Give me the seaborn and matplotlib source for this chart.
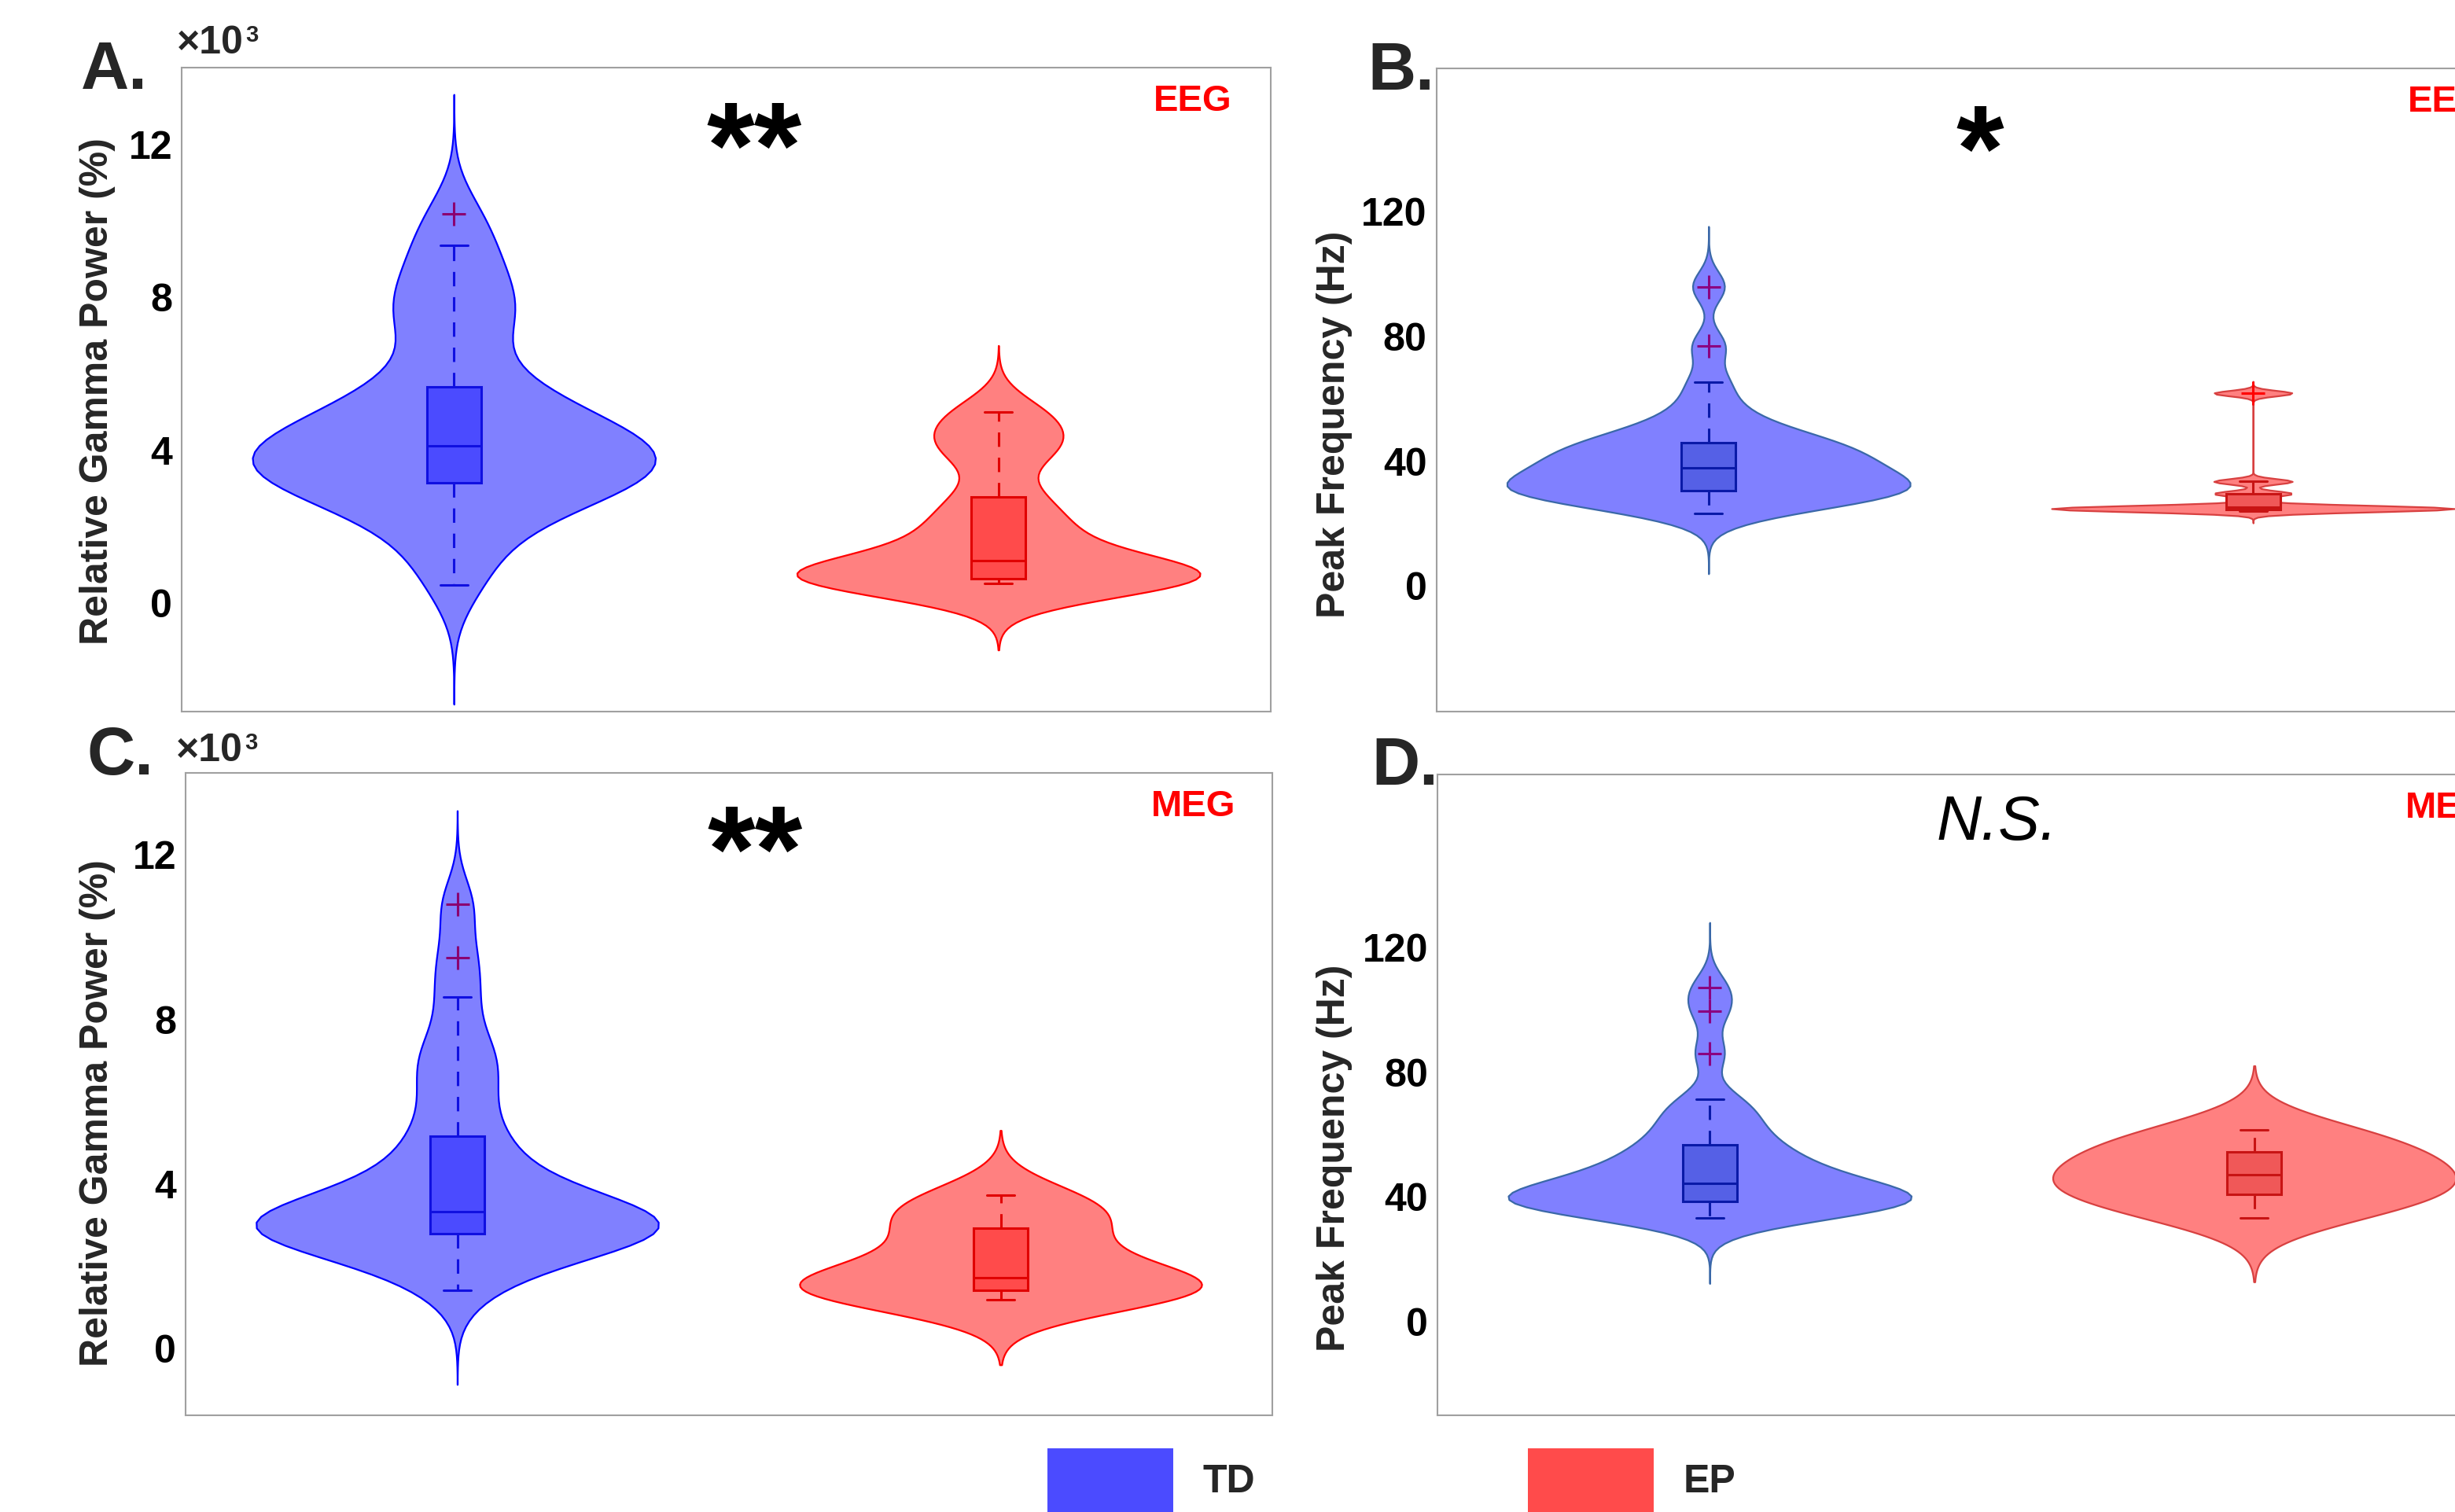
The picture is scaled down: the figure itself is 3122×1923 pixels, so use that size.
import numpy as np
import pandas as pd
import matplotlib
matplotlib.use("Agg")
import matplotlib.pyplot as plt
from matplotlib.patches import Patch
import seaborn as sns

# ---- data (box stats + violin outlines) ----
groups = ["TD", "EP"]

# A. EEG relative gamma power (x10^3 %)
eeg_power_td = [0.47, 1.3, 1.9, 2.4, 2.7, 2.9, 3.05, 3.1, 3.3, 3.45, 3.6, 3.7, 3.8, 3.95, 4.05,
                4.17, 4.3, 4.5, 4.7, 4.9, 5.2, 5.55, 5.7, 6.6, 7.4, 7.6, 8.1, 8.7, 9.36, 10.19]
eeg_power_ep = [0.51, 0.55, 0.6, 0.64, 0.75, 0.9, 1.10, 1.7, 2.1, 2.77, 3.9, 4.4, 5.0]

# B. EEG peak frequency (Hz)
eeg_freq_td = [23.2, 25.5, 27, 28, 29, 29.8, 30.2, 30.5, 31, 32, 33, 34, 35, 36, 37.5,
               38.5, 39.5, 40.5, 41.5, 43, 44.5, 45.5, 46, 48, 50, 53, 58, 65.4, 76.9, 96.0]
eeg_freq_ep = [24.0, 24.4, 24.6, 24.9, 25.2, 25.5, 29.6, 33.5, 61.8]

# C. MEG relative gamma power (x10^3 %)
meg_power_td = [1.41, 1.9, 2.2, 2.4, 2.55, 2.65, 2.72, 2.78, 2.86, 2.95, 3.0, 3.08, 3.15, 3.22, 3.3,
                3.36, 3.5, 3.7, 3.9, 4.2, 4.5, 4.9, 5.26, 5.9, 6.5, 7.0, 7.5, 8.54, 9.50, 10.79]
meg_power_ep = [1.18, 1.25, 1.35, 1.42, 1.55, 1.65, 1.73, 2.1, 2.5, 2.92, 3.2, 3.5, 3.73]

# D. MEG peak frequency (Hz)
meg_freq_td = [33.2, 34.5, 35.5, 36.3, 37, 37.6, 38.1, 38.4, 38.8, 39.5, 40.3, 41, 41.8, 42.6, 43.8,
               45.0, 46.5, 48, 49.5, 51, 53, 56.0, 56.8, 61, 64, 68, 71.2, 86.0, 99.6, 107.0]
meg_freq_ep = [33.2, 36, 38.5, 40.8, 43, 45, 47.0, 48.5, 51, 54.4, 57, 59.5, 61.6]

power_ticks = [0, 4, 8, 12]
freq_ticks = [0, 40, 80, 120]

W, H = 3122, 1923

sns.set_style("white")
plt.rcParams["font.family"] = ["Liberation Sans", "DejaVu Sans"]
plt.rcParams["font.weight"] = "bold"

# colour sets: (violin fill, violin edge, box fill, box edge, flier)
bright = {
    "TD": ("#8080ff", "#0000ff", "#4b4bff", "#1010e0", "#8b0070"),
    "EP": ("#ff8080", "#ff0000", "#ff4b4b", "#e00000", "#e00000"),
}
muted = {
    "TD": ("#8080ff", "#3a68a8", "#5560e6", "#0a1aa8", "#8b0080"),
    "EP": ("#ff8080", "#d84040", "#f05858", "#c81414", "#ff0000"),
}


def px_axes(fig, left, top, right, bottom):
    return fig.add_axes([left / W, 1 - bottom / H, (right - left) / W, (bottom - top) / H])


def draw_group(ax, values, name, cols, bw, cut):
    fill, edge, boxfill, boxedge, flier = cols
    df = pd.DataFrame({"group": name, "value": values})
    sns.violinplot(data=df, x="group", y="value", order=groups, color=fill, linecolor=edge,
                   linewidth=1.6, inner=None, cut=cut, bw_adjust=bw, density_norm="width",
                   width=0.74, saturation=1, ax=ax)
    sns.boxplot(data=df, x="group", y="value", order=groups, color=boxfill, linecolor=boxedge,
                linewidth=2.2, width=0.1, saturation=1, whis=1.5,
                whiskerprops={"linestyle": (0, (6, 4.5))},
                flierprops={"marker": "+", "markersize": 21, "markeredgewidth": 2.2,
                            "markeredgecolor": flier},
                ax=ax)


def style_axes(ax, ylim, ticks, ylabel, label_xy, tag, sig, sig_xy, sig_style):
    ax.set_xlim(-0.5, 1.5)
    ax.set_ylim(*ylim)
    ax.set_yticks(ticks)
    ax.set_xticks([])
    ax.set_xlabel("")
    ax.set_ylabel(ylabel, fontsize=36, fontweight="bold")
    ax.yaxis.set_label_coords(*label_xy)
    ax.tick_params(axis="y", direction="in", length=22, width=2.9, labelsize=36, pad=8.6,
                   colors="black")
    for sp in ax.spines.values():
        sp.set_color("#a0a0a0")
        sp.set_linewidth(1.5)
        sp.set_visible(True)
    ax.text(tag[0], tag[1], tag[2], transform=ax.transAxes, ha="right", va="baseline",
            color="#ff0000", fontsize=34, fontweight="bold")
    ax.text(sig_xy[0], sig_xy[1], sig, transform=ax.transAxes, ha="center", va="baseline",
            **sig_style)


fig = plt.figure(figsize=(W / 100, H / 100), dpi=100)

ax_a = px_axes(fig, 231, 86, 1616, 905)
ax_b = px_axes(fig, 1826.5, 87, 3211.5, 905)
ax_c = px_axes(fig, 236, 983, 1618, 1800)
ax_d = px_axes(fig, 1828, 985, 3213, 1800)

# A
draw_group(ax_a, eeg_power_td, "TD", bright["TD"], 0.7, 3.7)
draw_group(ax_a, eeg_power_ep, "EP", bright["EP"], 0.55, 3.3)
# B
draw_group(ax_b, eeg_freq_td, "TD", muted["TD"], 0.6, 4.0)
draw_group(ax_b, eeg_freq_ep, "EP", muted["EP"], 0.11, 4.4)
# C
draw_group(ax_c, meg_power_td, "TD", bright["TD"], 0.55, 3.5)
draw_group(ax_c, meg_power_ep, "EP", bright["EP"], 1.0, 2.9)
# D
draw_group(ax_d, meg_freq_td, "TD", muted["TD"], 0.55, 4.0)
draw_group(ax_d, meg_freq_ep, "EP", muted["EP"], 1.3, 2.9)

star = dict(fontsize=112, fontweight="bold", color="black")
ns = dict(fontsize=57, fontweight="normal", fontstyle="italic", color="black")

style_axes(ax_a, (-2.84, 14.01), power_ticks, "Relative Gamma Power (%)", (-0.0607, 0.498),
           (0.964, 0.933, "EEG"), "**", (0.526, 0.815), star)
style_axes(ax_b, (-40.3, 166.0), freq_ticks, "Peak Frequency (Hz)", (-0.0769, 0.447),
           (0.964, 0.933, "EEG"), "*", (0.4993, 0.811), star)
style_axes(ax_c, (-1.62, 13.99), power_ticks, "Relative Gamma Power (%)", (-0.0644, 0.471),
           (0.966, 0.933, "MEG"), "**", (0.524, 0.817), star)
style_axes(ax_d, (-30.0, 175.4), freq_ticks, "Peak Frequency (Hz)", (-0.078, 0.402),
           (0.966, 0.933, "MEG"), "N.S.", (0.514, 0.898), ns)

# panel letters and exponent labels
for letter, x, y in [("A.", 103, 113), ("B.", 1739, 114), ("C.", 110, 985), ("D.", 1744, 998)]:
    fig.text(x / W, 1 - y / H, letter, fontsize=61, fontweight="bold", va="baseline")
for x, y in [(225, 68), (224, 968)]:
    fig.text(x / W, 1 - y / H, "\u00d710", fontsize=36, fontweight="bold", va="baseline")
    fig.text((x + 87) / W, 1 - (y - 15) / H, "3", fontsize=21, fontweight="bold", va="baseline")

# legend along the bottom edge
handles = [Patch(facecolor="#4b4bff", edgecolor="none", label="TD"),
           Patch(facecolor="#ff4b4b", edgecolor="none", label="EP")]
fig.legend(handles=handles, loc="upper left", bbox_to_anchor=(1332 / W, 1 - 1842 / H), ncol=2,
           frameon=False, prop={"size": 36, "weight": "bold"}, handlelength=3.2,
           handleheight=2.1, handletextpad=0.76, columnspacing=6.92, borderpad=0,
           borderaxespad=0)

fig.savefig("out.png", dpi=100)
